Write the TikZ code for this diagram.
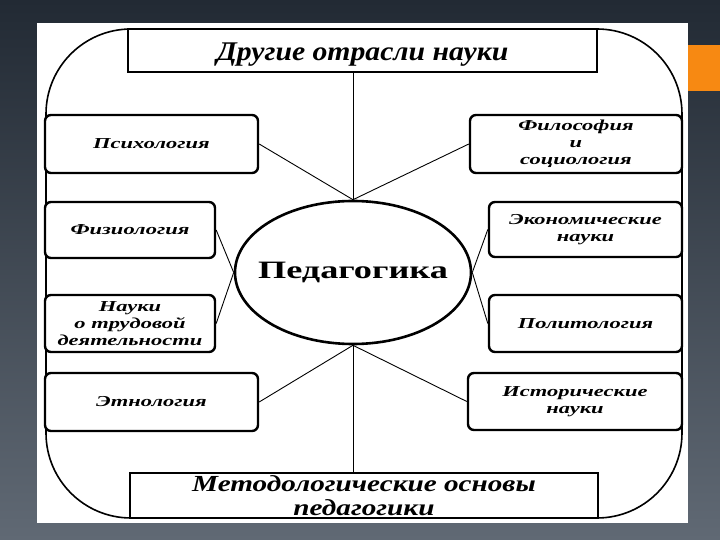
\documentclass[tikz,border=0pt]{standalone}
\usepackage{fontspec}
\setmainfont{Liberation Serif}
\newfontfamily\widefont[FakeStretch=1.48]{Liberation Serif}
\newfontfamily\barfont[FakeStretch=1.1]{Liberation Serif}
\newfontfamily\basefont[FakeStretch=1.27]{Liberation Serif}
\newfontfamily\widerfont[FakeStretch=1.45]{Liberation Serif}
\usetikzlibrary{shapes.geometric}
\definecolor{slidetop}{RGB}{34,42,52}
\definecolor{slidemid}{RGB}{42,51,62}
\definecolor{slidebot}{RGB}{96,105,116}
\definecolor{slideorange}{RGB}{247,137,18}

\begin{document}
\begin{tikzpicture}[x=0.5pt, y=-0.5pt,
	box/.style={draw, line width=1.2pt, rounded corners=3pt, fill=white, inner sep=0pt, align=center, font=\widefont\bfseries\itshape\fontsize{7.6}{8.5}\selectfont},
	bar/.style={draw, line width=1.3pt, fill=white, inner sep=0pt, align=center, font=\barfont\bfseries\itshape\fontsize{13.5}{11.5}\selectfont},
	link/.style={line width=0.45pt}]
	\useasboundingbox (0,0) rectangle (720,540);
	\shade[top color=slidetop, middle color=slidemid, bottom color=slidebot] (0,0) rectangle (720,540);
	\fill[slideorange] (688,45) rectangle (720,91);
	\fill[white] (37,23) rectangle (688,523);
	\draw[line width=0.8pt, rounded corners=42.5pt] (46,29) rectangle (682,518);
	\node[bar, minimum width=234.5pt, minimum height=21.5pt, text height=16pt, text depth=5.5pt] (other) at (362.5,50.5) {Другие отрасли науки};
	\node[bar, minimum width=234pt, minimum height=22.5pt, font=\basefont\bfseries\itshape\fontsize{11.5}{11.8}\selectfont] (method) at (364,495.5) {Методологические основы\\педагогики};
	\node[draw, ellipse, line width=1.3pt, fill=white, inner sep=0pt, minimum width=118pt, minimum height=71.5pt, font=\widerfont\bfseries\fontsize{12.5}{12.5}\selectfont] (ped) at (353,272.5) {\makebox[0pt]{Педагогика}};
	\node[box, minimum width=106.5pt, minimum height=29pt] (psy) at (151.5,144) {Психология};
	\node[box, minimum width=85pt, minimum height=28pt] (phys) at (130,230) {Физиология};
	\node[box, minimum width=85pt, minimum height=28.5pt] (labour) at (130,323.5) {Науки\\о трудовой\\деятельности};
	\node[box, minimum width=106.5pt, minimum height=29pt] (ethn) at (151.5,402) {Этнология};
	\node[box, minimum width=106pt, minimum height=29pt] (phil) at (576,144) {Философия\\и\\социология};
	\node[box, minimum width=96.5pt, minimum height=27.5pt] (econ) at (585.5,229.5) {Экономические\\науки};
	\node[box, minimum width=96.5pt, minimum height=28.5pt] (polit) at (585.5,323.5) {Политология};
	\node[box, minimum width=107pt, minimum height=28.5pt] (hist) at (575,401.5) {Исторические\\науки};
	\draw[link] (other.south -| ped.north) -- (ped.north);
	\draw[link] (ped.south) -- (ped.south |- method.north);
	\draw[link] (psy.east) -- (ped.north);
	\draw[link] (phil.west) -- (ped.north);
	\draw[link] (phys.east) -- (ped.west);
	\draw[link] (labour.east) -- (ped.west);
	\draw[link] (econ.west) -- (ped.east);
	\draw[link] (polit.west) -- (ped.east);
	\draw[link] (ethn.east) -- (ped.south);
	\draw[link] (hist.west) -- (ped.south);
\end{tikzpicture}
\end{document}
